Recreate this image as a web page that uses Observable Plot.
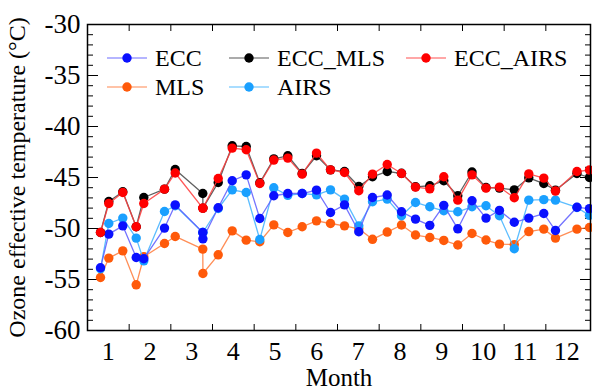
<!DOCTYPE html>
<html><head><meta charset="utf-8">
<script src="https://cdn.jsdelivr.net/npm/d3@7"></script>
<script src="https://cdn.jsdelivr.net/npm/@observablehq/plot@0.6"></script>
<style>
body{margin:0;background:#fff;}
#wrap{position:relative;width:592px;height:390px;font-family:"Liberation Serif","Times New Roman",serif;}
#wrap svg, #wrap svg text{font-family:"Liberation Serif","Times New Roman",serif !important;}
.leg{position:absolute;font-size:24px;display:flex;align-items:center;line-height:1;color:#000;}
.leg svg{margin-right:8px;}
</style></head><body><div id="wrap"></div>
<script>
// x positions (decimal month) of each sample
const months = [0.812,1.011,1.347,1.669,1.851,2.348,2.605,3.267,3.270,3.637,3.973,4.309,4.635,4.971,5.307,5.652,5.996,6.332,6.668,7.011,7.340,7.693,8.036,8.372,8.715,9.051,9.387,9.728,10.064,10.387,10.743,11.091,11.451,11.731,12.247,12.547];
const ecc = [-53.85,-50.55,-49.74,-52.84,-52.97,-49.96,-47.68,-50.39,-51.01,-47.97,-45.32,-44.74,-49.02,-46.79,-46.57,-46.57,-46.24,-48.43,-47.68,-50.32,-46.96,-46.72,-48.36,-49.08,-49.69,-47.73,-50.03,-47.28,-48.98,-48.23,-49.39,-48.98,-48.53,-50.20,-47.92,-48.05];
const eccMls = [-50.39,-47.35,-46.40,-49.83,-46.96,-46.14,-44.22,-46.57,-48.00,-45.49,-41.89,-41.96,-45.52,-43.17,-42.87,-44.61,-42.87,-44.25,-44.41,-45.88,-44.93,-44.41,-44.59,-45.91,-45.81,-45.32,-46.79,-44.46,-45.98,-46.04,-46.21,-45.03,-45.59,-46.24,-44.61,-45.00];
const eccAirs = [-50.39,-47.55,-46.47,-49.83,-47.55,-46.14,-44.56,-48.00,-48.00,-45.10,-42.12,-42.28,-45.59,-43.29,-43.10,-44.67,-42.61,-44.25,-44.51,-46.30,-44.67,-43.73,-44.61,-45.94,-46.11,-44.93,-47.22,-44.74,-46.04,-45.94,-46.99,-44.64,-45.06,-46.33,-44.41,-44.27];
const mls = [-54.80,-52.90,-52.19,-55.52,-52.77,-51.47,-50.78,-52.02,-54.41,-52.58,-50.23,-51.14,-51.30,-49.64,-50.39,-49.83,-49.25,-49.51,-49.74,-50.03,-51.06,-50.35,-49.66,-50.64,-50.88,-51.17,-51.62,-50.49,-51.13,-51.53,-51.58,-50.30,-50.06,-50.94,-50.06,-49.90];
const airs = [-53.95,-49.51,-48.98,-50.94,-53.17,-48.33,-47.77,-50.39,-50.39,-48.04,-46.21,-46.47,-51.08,-46.01,-46.75,-46.57,-46.70,-46.21,-47.12,-49.74,-47.38,-47.12,-48.75,-47.45,-47.87,-48.26,-48.36,-47.87,-47.77,-48.75,-51.99,-47.22,-47.17,-47.22,-47.94,-48.71];

const seriesNames = ["ECC","ECC_MLS","ECC_AIRS","MLS","AIRS"];
const seriesValues = [ecc, eccMls, eccAirs, mls, airs];
const dotColors = ["#0a10ff","#000000","#ff0000","#ff5a0a","#1aa0ff"];
const lineColors = ["#5a5aff","#444444","#ff3a3a","#ff7a3a","#40b2ff"];
const drawOrder = [3,4,0,1,2];

const monthLabels = [1,2,3,4,5,6,7,8,9,10,11,12];
const monthTicks = [1.5,2.5,3.5,4.5,5.5,6.5,7.5,8.5,9.5,10.5,11.5];
const yMajor = [-60,-55,-50,-45,-40,-35,-30];
const yMinor = d3.range(-60,-29,1).filter(v => v % 5 !== 0);

const rows = [];
seriesNames.forEach((name, i) => {
  seriesValues[i].forEach((v, j) => rows.push({series: name, x: months[j], y: v}));
});

const seriesMarks = [];
for (const i of drawOrder) {
  const data = rows.filter(d => d.series === seriesNames[i]);
  seriesMarks.push(Plot.line(data, {x: "x", y: "y", stroke: lineColors[i], strokeWidth: 1.3, strokeOpacity: 0.85}));
  seriesMarks.push(Plot.dot(data, {x: "x", y: "y", r: 4.7, fill: dotColors[i], stroke: "none"}));
}

const serif = "Liberation Serif";
const empty = () => "";
const chart = Plot.plot({
  width: 592, height: 390,
  marginLeft: 87, marginRight: 2, marginTop: 24, marginBottom: 60,
  x: {domain: [0.5, 12.572]},
  y: {domain: [-60, -30]},
  style: {fontFamily: serif, fontSize: "24px", color: "black", background: "white"},
  marks: [
    Plot.axisY({ticks: yMajor, tickSize: 0, tickPadding: 7, tickFormat: d => String(d), fontFamily: serif, fontSize: 27, label: null}),
    Plot.axisY({ticks: yMajor, tickSize: -11, tickFormat: empty, fontFamily: serif, fontSize: 24,
      label: "Ozone effective temperature (°C)", labelAnchor: "center", labelOffset: 80, labelArrow: "none"}),
    Plot.axisY({ticks: yMinor, tickSize: -6, tickFormat: empty, label: null}),
    Plot.axisY({anchor: "right", ticks: yMajor, tickSize: -11, tickFormat: empty, label: null}),
    Plot.axisY({anchor: "right", ticks: yMinor, tickSize: -6, tickFormat: empty, label: null}),
    Plot.axisX({ticks: monthLabels, tickSize: 0, tickPadding: 11, tickFormat: d => String(d), fontFamily: serif, fontSize: 26, label: null}),
    Plot.axisX({ticks: monthTicks, tickSize: -6, tickFormat: empty, fontFamily: serif, fontSize: 25,
      label: "Month", labelAnchor: "center", labelOffset: 55, labelArrow: "none"}),
    Plot.axisX({anchor: "top", ticks: monthTicks, tickSize: -6, tickFormat: empty, label: null}),
    ...seriesMarks,
    Plot.frame({stroke: "black", strokeWidth: 1.5})
  ]
});
const wrap = document.getElementById("wrap");
wrap.appendChild(chart);

// legend inside plot area
const legendPos = [[107,46],[229,46],[406,46],[107,75],[229,75]];
seriesNames.forEach((name, i) => {
  const div = document.createElement("div");
  div.className = "leg";
  div.style.left = legendPos[i][0] + "px";
  div.style.top = legendPos[i][1] + "px";
  div.innerHTML = `<svg width="40" height="24"><line x1="0" y1="12" x2="40" y2="12" stroke="${lineColors[i]}" stroke-opacity="0.6" stroke-width="1.3"/><circle cx="20" cy="12" r="4.7" fill="${dotColors[i]}"/></svg><span>${name}</span>`;
  wrap.appendChild(div);
});
</script></body></html>
